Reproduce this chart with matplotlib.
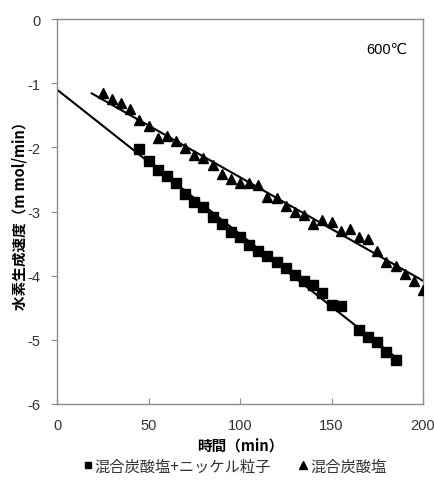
import numpy as np
import matplotlib
matplotlib.use("Agg")
import matplotlib.pyplot as plt
from matplotlib.lines import Line2D

plt.rcParams["font.family"] = ["Liberation Sans", "Noto Sans CJK JP", "DejaVu Sans"]
plt.rcParams["axes.unicode_minus"] = False

# 混合炭酸塩+ニッケル粒子 (squares)
sq_x = [45, 50, 55, 60, 65, 70, 75, 80, 85, 90, 95, 100, 105, 110, 115, 120,
        125, 130, 135, 140, 145, 150, 155, 165, 170, 175, 180, 185]
sq_y = [-2.02, -2.22, -2.35, -2.44, -2.56, -2.72, -2.85, -2.93, -3.08, -3.20,
        -3.32, -3.40, -3.52, -3.62, -3.70, -3.78, -3.88, -3.99, -4.08, -4.15,
        -4.27, -4.46, -4.48, -4.84, -4.95, -5.04, -5.19, -5.32]

# 混合炭酸塩 (triangles)
tri_x = [25, 30, 35, 40, 45, 50, 55, 60, 65, 70, 75, 80, 85, 90, 95, 100, 105,
         110, 115, 120, 125, 130, 135, 140, 145, 150, 155, 160, 165, 170, 175,
         180, 185, 190, 195, 200]
tri_y = [-1.15, -1.24, -1.31, -1.41, -1.57, -1.66, -1.85, -1.82, -1.90, -2.01,
         -2.12, -2.17, -2.28, -2.41, -2.49, -2.55, -2.56, -2.59, -2.77, -2.79,
         -2.92, -3.00, -3.05, -3.20, -3.14, -3.17, -3.31, -3.28, -3.39, -3.43,
         -3.61, -3.79, -3.85, -3.97, -4.08, -4.23]

# linear trend lines (slope, intercept) and their x ranges
sq_fit = (-0.02254, -1.10)
sq_fit_range = (0, 185)
tri_fit = (-0.01613, -0.853)
tri_fit_range = (19, 200)

x_ticks = [0, 50, 100, 150, 200]
y_ticks = [0, -1, -2, -3, -4, -5, -6]

fig = plt.figure(figsize=(4.35, 4.89), dpi=100)
ax = fig.add_axes([57 / 435, 1 - 405 / 489, 366 / 435, 385 / 489])

for (m, b), (x0, x1) in [(sq_fit, sq_fit_range), (tri_fit, tri_fit_range)]:
    xs = np.array([x0, x1])
    ax.plot(xs, m * xs + b, color="black", lw=1.5, zorder=2)

ax.plot(sq_x, sq_y, ls="none", marker="s", ms=6.6, color="black", zorder=3)
ax.plot(tri_x, tri_y, ls="none", marker="^", ms=7.5, color="black", zorder=3)

ax.set_xlim(0, 200)
ax.set_ylim(-6, 0)
ax.set_xticks(x_ticks)
ax.set_yticks(y_ticks)
for s in ax.spines.values():
    s.set_color("#8c8c8c")
    s.set_linewidth(1.0)
ax.tick_params(axis="x", direction="in", length=4, color="#8c8c8c",
               labelsize=10.5, pad=10, labelcolor="#333333")
ax.tick_params(axis="y", direction="out", length=4, color="#8c8c8c",
               labelsize=10.5, pad=8, labelcolor="#333333")

ax.set_xlabel("時間（min）", fontsize=10.5, fontweight="bold",
              family=["Noto Sans CJK JP"], labelpad=3)
ax.set_ylabel("水素生成速度（m mol/min）", fontsize=10.5, fontweight="bold",
              family=["Noto Sans CJK JP"], labelpad=0)

ax.text(0.845, 0.922, "600℃", transform=ax.transAxes, fontsize=10.5,
        ha="left", va="center", family=["Liberation Sans", "DejaVu Sans"])

handles = [
    Line2D([], [], ls="none", marker="s", ms=5, color="black"),
    Line2D([], [], ls="none", marker="^", ms=6, color="black"),
]
fig.legend(handles, ["混合炭酸塩+ニッケル粒子", "混合炭酸塩"], loc="center",
           bbox_to_anchor=(235 / 435, 1 - 467 / 489), ncol=2, frameon=False,
           handlelength=0.6, handletextpad=0.15, columnspacing=1.8,
           labelcolor="#333333",
           prop={"family": ["Noto Sans CJK JP"], "size": 11})

fig.savefig("out.png", dpi=100)
